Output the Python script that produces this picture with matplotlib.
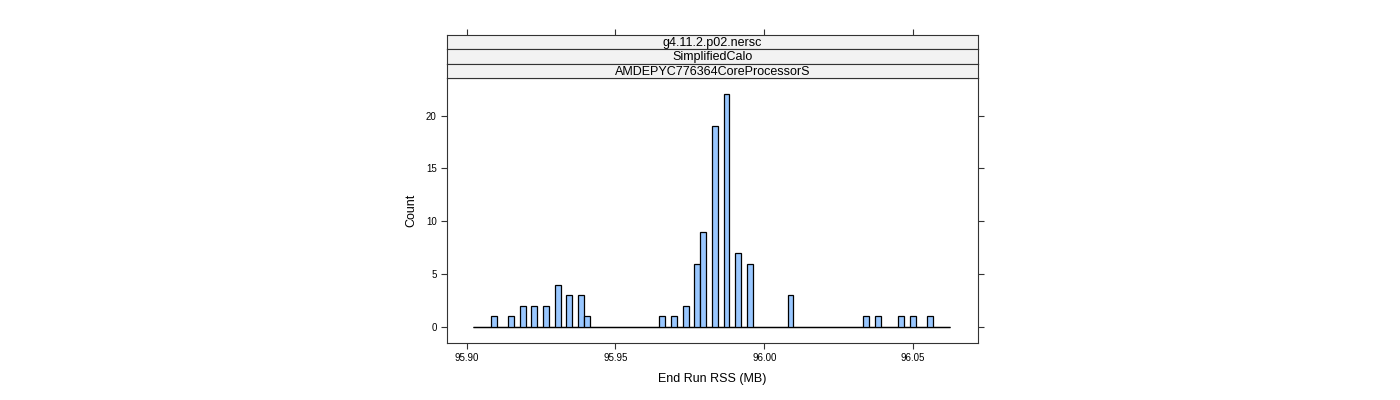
import numpy as np
import matplotlib
matplotlib.use("Agg")
import matplotlib.pyplot as plt

# ---- data ----
rss_values = [95.90907, 95.91493, 95.91885, 95.92276, 95.92667, 95.93058, 95.93449,
              95.93841, 95.94036, 95.96579, 95.96970, 95.97361, 95.97753, 95.97948,
              95.98339, 95.98731, 95.99122, 95.99513, 96.00882, 96.03425, 96.03816,
              96.04599, 96.04990, 96.05577]
counts = [1, 1, 2, 2, 2, 4, 3, 3, 1, 1, 1, 2, 6, 9, 19, 22, 7, 6, 3, 1, 1, 1, 1, 1]
bin_start = 95.9022
bin_end = 96.0626
n_bins = 82
x_ticks = [95.90, 95.95, 96.00, 96.05]
x_tick_labels = ["95.90", "95.95", "96.00", "96.05"]
y_ticks = [0, 5, 10, 15, 20]
strip_labels = ["g4.11.2.p02.nersc", "SimplifiedCalo", "AMDEPYC776364CoreProcessorS"]
x_label = "End Run RSS (MB)"
y_label = "Count"

plt.rcParams['font.family'] = ['Liberation Sans', 'DejaVu Sans']

W, H = 1400, 400
fig = plt.figure(figsize=(W / 100, H / 100), dpi=100)

def fr(x0, y0, x1, y1):
    return [x0 / W, 1 - y1 / H, (x1 - x0) / W, (y1 - y0) / H]

frame_col = "#333333"
xlim = (95.89338, 96.07185)

ax = fig.add_axes(fr(447, 78, 978, 343))
edges = np.linspace(bin_start, bin_end, n_bins + 1)
ax.hlines(0, edges[0], edges[-1], color="black", linewidth=0.9, zorder=1)
ax.hist(rss_values, bins=edges, weights=counts, color="#99C7FF",
        edgecolor="black", linewidth=0.9, zorder=2)
ax.set_xlim(*xlim)
ax.set_ylim(-1.513, 23.55)
ax.set_xticks(x_ticks)
ax.set_xticklabels(x_tick_labels)
ax.set_yticks(y_ticks)
ax.tick_params(axis="both", direction="out", length=4.5, width=0.8,
               labelsize=7, color=frame_col, pad=3)
ax.tick_params(axis="y", right=True, labelright=False)
for s in ax.spines.values():
    s.set_color(frame_col)
    s.set_linewidth(0.8)
ax.set_xlabel(x_label, fontsize=9, labelpad=7)
ax.set_ylabel(y_label, fontsize=9, labelpad=6)

# strips
strip_bounds = [(35, 49.3), (49.3, 63.7), (63.7, 78)]
for i, (lab, (y0, y1)) in enumerate(zip(strip_labels, strip_bounds)):
    sax = fig.add_axes(fr(447, y0, 978, y1))
    sax.set_facecolor("#F2F2F2")
    sax.set_xlim(*xlim)
    sax.set_ylim(0, 1)
    sax.set_yticks([])
    if i == 0:
        sax.set_xticks(x_ticks)
        sax.tick_params(axis="x", top=True, bottom=False, labeltop=False,
                        labelbottom=False, direction="out", length=4.5,
                        width=0.8, color=frame_col)
    else:
        sax.set_xticks([])
    for s in sax.spines.values():
        s.set_color(frame_col)
        s.set_linewidth(0.8)
    sax.text(0.5, 0.45, lab, transform=sax.transAxes, ha="center", va="center",
             fontsize=9, color="black")

fig.savefig("out.png", dpi=100)
